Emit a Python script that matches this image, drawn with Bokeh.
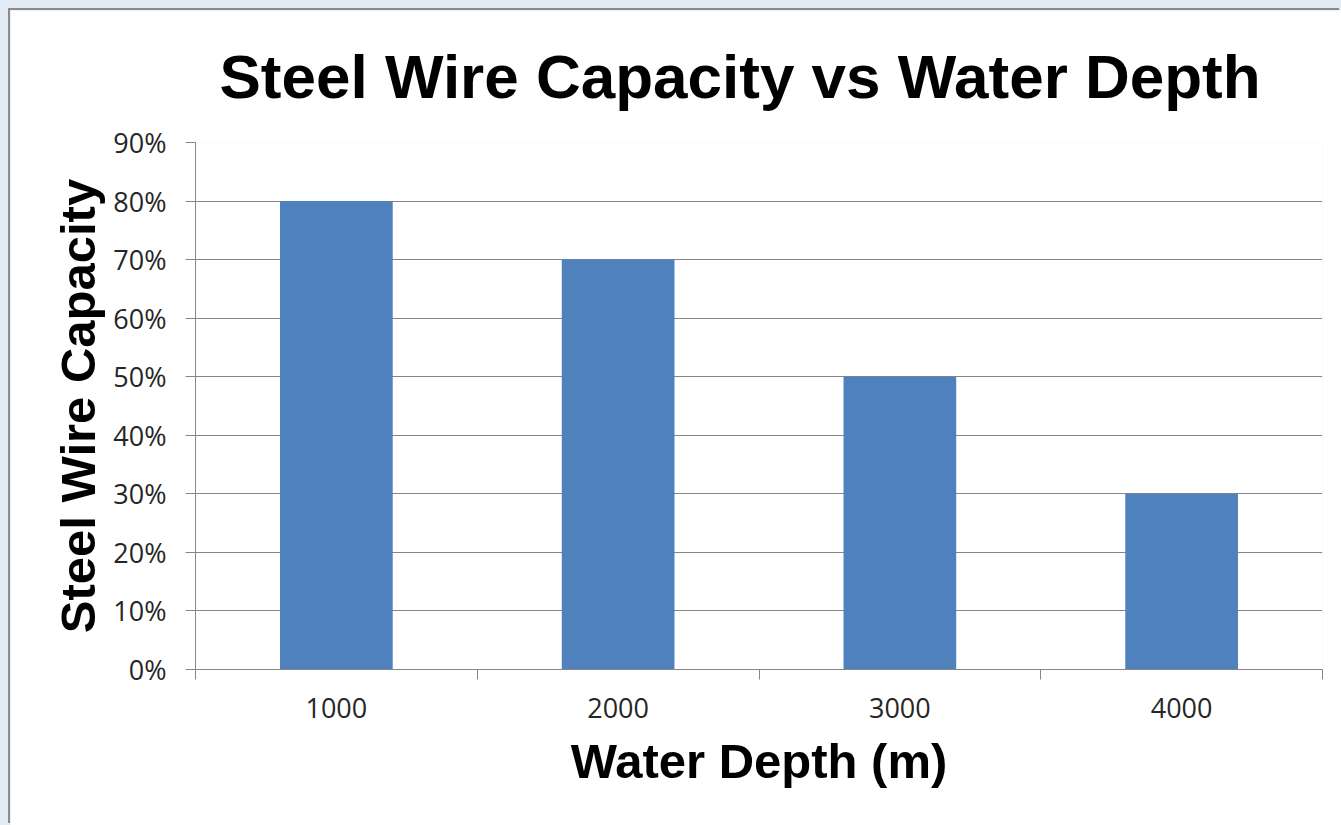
from bokeh.plotting import figure
from bokeh.models import Range1d, FixedTicker, NumeralTickFormatter, Column
from bokeh.embed import file_html
from bokeh.resources import INLINE

# ---- data ----
depths = ["1000", "2000", "3000", "4000"]
capacity = [0.80, 0.70, 0.50, 0.30]
y_ticks = [0.0, 0.1, 0.2, 0.3, 0.4, 0.5, 0.6, 0.7, 0.8, 0.9]

title_text = "Steel Wire Capacity vs Water Depth"
x_title = "Water Depth (m)"
y_title = "Steel Wire Capacity"

xs = [i + 1 for i in range(len(depths))]
bounds = [i + 0.5 for i in range(len(depths) + 1)]

GREY = "#868686"

p = figure(width=1331, height=815, output_backend="svg", toolbar_location=None,
           x_range=Range1d(0.5, len(depths) + 0.5), y_range=Range1d(0, y_ticks[-1]),
           min_border_left=185, min_border_right=19, min_border_top=132, min_border_bottom=156,
           background_fill_color="white", border_fill_color="white")
p.margin = (10, 0, 0, 10)
p.styles = {"box-shadow": "-2px -2px 0px 0px #8c8c8c"}
p.outline_line_color = None

p.vbar(x=xs, top=capacity, width=0.4, fill_color="#4f81bd", line_color=None)

# title
p.title.text = title_text
p.title.text_font = "Liberation Sans"
p.title.text_font_style = "bold"
p.title.text_font_size = "62px"
p.title.text_color = "black"
p.title.align = "left"
p.title.offset = 24
p.title.standoff = 60
p.title.vertical_align = "top"

# y axis
p.yaxis.ticker = FixedTicker(ticks=y_ticks)
p.yaxis.formatter = NumeralTickFormatter(format="0%")
p.yaxis.major_tick_out = 10
p.yaxis.major_tick_in = 0
p.yaxis.minor_tick_line_color = None
p.yaxis.axis_line_color = GREY
p.yaxis.major_tick_line_color = GREY
p.yaxis.major_label_text_font = "Open Sans"
p.yaxis.major_label_text_font_size = "27px"
p.yaxis.major_label_text_color = "#262626"
p.yaxis.major_label_standoff = 19
p.yaxis.axis_label = y_title
p.yaxis.axis_label_text_font = "Liberation Sans"
p.yaxis.axis_label_text_font_style = "bold"
p.yaxis.axis_label_text_font_size = "49px"
p.yaxis.axis_label_text_color = "black"
p.yaxis.axis_label_standoff = 5

# x axis
p.xaxis.ticker = FixedTicker(ticks=xs, minor_ticks=bounds)
p.xaxis.major_label_overrides = {x: d for x, d in zip(xs, depths)}
p.xaxis.major_tick_out = 0
p.xaxis.major_tick_in = 0
p.xaxis.minor_tick_out = 10
p.xaxis.minor_tick_in = 0
p.xaxis.minor_tick_line_color = GREY
p.xaxis.axis_line_color = GREY
p.xaxis.major_label_text_font = "Open Sans"
p.xaxis.major_label_text_font_size = "27px"
p.xaxis.major_label_text_color = "#262626"
p.xaxis.major_label_standoff = 18
p.xaxis.axis_label = x_title
p.xaxis.axis_label_text_font = "Liberation Sans"
p.xaxis.axis_label_text_font_style = "bold"
p.xaxis.axis_label_text_font_size = "49px"
p.xaxis.axis_label_text_color = "black"
p.xaxis.axis_label_standoff = 13

p.xgrid.grid_line_color = None
p.ygrid.grid_line_color = GREY
p.ygrid.ticker = FixedTicker(ticks=y_ticks)

layout = Column(p, width=1341, height=825,
                styles={"background-color": "#e3ebf5"})

open("out.html", "w").write(file_html(layout, INLINE))
